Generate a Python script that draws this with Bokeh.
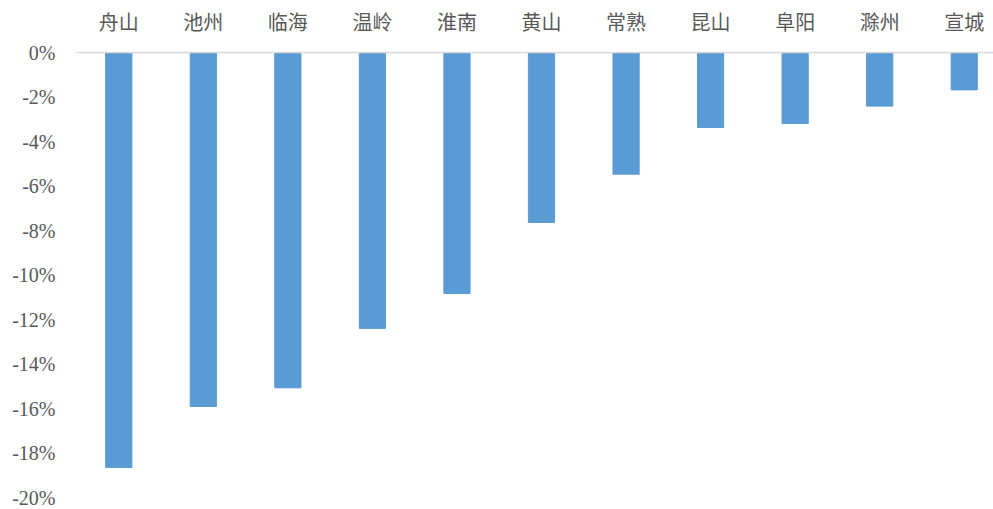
from bokeh.plotting import figure
from bokeh.models import Range1d, FixedTicker, PrintfTickFormatter, ColumnDataSource
from bokeh.embed import file_html
from bokeh.resources import INLINE

cities = ["舟山", "池州", "临海", "温岭", "淮南", "黄山", "常熟", "昆山", "阜阳", "滁州", "宣城"]
values = [-18.65, -15.91, -15.07, -12.40, -10.83, -7.64, -5.47, -3.37, -3.19, -2.41, -1.68]
y_ticks = list(range(-20, 1, 2))

idx = list(range(len(cities)))
src = ColumnDataSource(dict(x=idx, v=values, top=[0] * len(values)))

p = figure(width=993, height=509, output_backend="svg", toolbar_location=None,
           x_range=Range1d(-0.5, 10.346), y_range=Range1d(-20, 0),
           x_axis_location="above", min_border_left=76, min_border_right=0,
           min_border_top=52, min_border_bottom=12)
p.outline_line_color = None
p.background_fill_color = "white"
p.border_fill_color = "white"
p.grid.visible = False

p.vbar(x="x", top="top", bottom="v", width=0.31, source=src,
       fill_color="#5B9BD5", line_color="#5B9BD5")

xa = p.xaxis[0]
xa.ticker = FixedTicker(ticks=idx)
xa.major_label_overrides = {i: c for i, c in zip(idx, cities)}
xa.major_tick_line_color = None
xa.minor_tick_line_color = None
xa.axis_line_color = "#D9D9D9"
xa.axis_line_width = 1.5
xa.major_label_text_font = "Noto Sans CJK SC"
xa.major_label_text_font_size = "20px"
xa.major_label_text_color = "#595959"
xa.major_label_standoff = 11

ya = p.yaxis[0]
ya.ticker = FixedTicker(ticks=y_ticks)
ya.formatter = PrintfTickFormatter(format="%d%%")
ya.major_tick_line_color = None
ya.minor_tick_line_color = None
ya.axis_line_color = None
ya.major_label_text_font = "Liberation Serif"
ya.major_label_text_font_size = "20px"
ya.major_label_text_color = "#595959"
ya.major_label_standoff = 15

open("out.html", "w").write(file_html(p, INLINE))
